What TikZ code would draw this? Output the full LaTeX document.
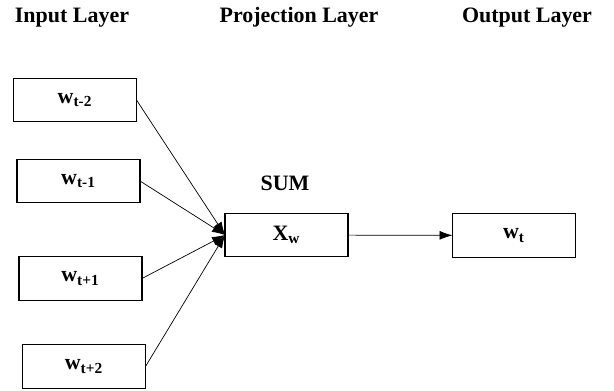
\documentclass[tikz,border=0pt]{standalone}
\usepackage{fontspec}
\setmainfont{Liberation Serif}
\usetikzlibrary{arrows.meta}
\begin{document}
\begin{tikzpicture}
\tikzset{ >={Latex[length=2.6mm,width=1.8mm]}, inner sep=0pt, outer sep=0pt,
  wbox/.style={draw, thick, minimum width=2.46cm, minimum height=0.87cm, font=\fontsize{12.5}{14}\selectfont\bfseries},
  layer/.style={font=\fontsize{12.5}{14}\selectfont\bfseries},
}

\useasboundingbox (0,0) rectangle (12.28,7.8);
%\draw [lightgray, dashed](0,0) grid (12,7);

\node [layer] (IL) at (1.44,7.44) {Input Layer};
\node [layer] (PL) at (5.98,7.45) {Projection Layer};
\node [layer] (OL) at (10.54,7.44) {Output Layer};

\node [wbox] (W2m) at (1.50,5.80) {w\textsubscript{t-2}};
\node [wbox] (W1m) at (1.57,4.18) {w\textsubscript{t-1}};
\node [wbox] (W1p) at (1.61,2.23) {w\textsubscript{t+1}};
\node [wbox] (W2p) at (1.68,0.47) {w\textsubscript{t+2}};

\node [wbox] (X) at (5.73,3.10) {X\textsubscript{w}};
\node [layer] (S) at (5.70,4.14) {SUM};
\node [wbox] (W) at (10.28,3.09) {w\textsubscript{t}};

\draw [->] (W2m.east) -- (X.west);
\draw [->] (W1m.east) -- (X.west);
\draw [->] (W1p.east) -- (X.west);
\draw [->] (W2p.east) -- (X.west);

\draw [->] (X) -- (W);
\end{tikzpicture}
\end{document}
